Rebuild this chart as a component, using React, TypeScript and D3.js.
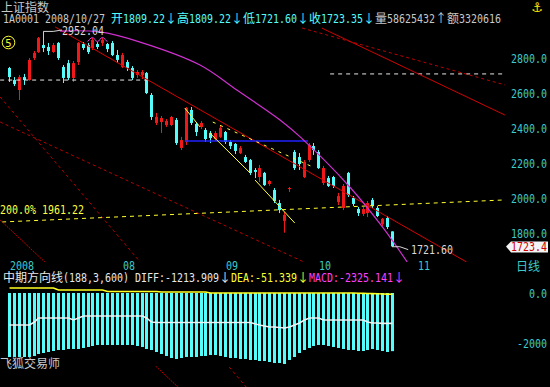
import React from "react";
import * as d3 from "d3";

const W = 550;
const H = 387;

// daily K, 2008-07-01 .. 2008-10-27 (79 bars)
const opens = [2743, 2674, 2617, 2691, 2674, 2800, 2834, 2874, 2863, 2834, 2886, 2749, 2771, 2686, 2777, 2880, 2874, 2857, 2880, 2886,
  2880, 2886, 2817, 2749, 2777, 2743, 2703, 2703, 2714, 2589, 2429, 2434, 2417, 2417, 2446, 2286, 2320, 2503, 2423, 2406,
  2389, 2371, 2337, 2349, 2377, 2320, 2309, 2257, 2234, 2217, 2160, 2120, 2143, 2080, 2046, 1971, 1869, 2051, 2263, 2234,
  2120, 2217, 2297, 2263, 2086, 2114, 2120, 1977, 1943, 2143, 2000, 1937, 1909, 1914, 1989, 1943, 1851, 1886, 1809.22];
const highs = [2749, 2691, 2703, 2709, 2800, 2840, 2920, 2952.04, 2886, 2886, 2891, 2760, 2789, 2783, 2891, 2891, 2886, 2914, 2891, 2914,
  2886, 2897, 2846, 2829, 2789, 2754, 2731, 2731, 2720, 2600, 2486, 2469, 2451, 2469, 2457, 2349, 2520, 2520, 2434, 2440,
  2400, 2383, 2383, 2411, 2383, 2331, 2314, 2297, 2246, 2223, 2171, 2189, 2149, 2103, 2057, 1989, 1920, 2063, 2274, 2257,
  2217, 2314, 2314, 2274, 2183, 2126, 2126, 2029, 2080, 2149, 2011, 1949, 1949, 1983, 2000, 1954, 1886, 1897, 1809.22];
const lows = [2663, 2640, 2560, 2646, 2670, 2789, 2829, 2834, 2817, 2829, 2789, 2657, 2674, 2663, 2760, 2846, 2823, 2846, 2851, 2869,
  2834, 2811, 2771, 2743, 2726, 2674, 2686, 2680, 2594, 2446, 2417, 2371, 2406, 2411, 2303, 2274, 2303, 2417, 2354, 2394,
  2320, 2314, 2326, 2343, 2309, 2280, 2251, 2251, 2200, 2131, 2114, 2091, 2069, 2069, 1971, 1914, 1802, 2034, 2160, 2160,
  2114, 2206, 2246, 2166, 2074, 2063, 2057, 1960, 1931, 2006, 1954, 1897, 1897, 1891, 1943, 1891, 1840, 1823, 1721.6];
const closes = [2691, 2651, 2691, 2674, 2789, 2829, 2914, 2857, 2840, 2874, 2800, 2686, 2686, 2771, 2886, 2857, 2834, 2903, 2863, 2903,
  2851, 2817, 2789, 2817, 2743, 2686, 2720, 2720, 2600, 2463, 2463, 2457, 2440, 2463, 2314, 2331, 2514, 2429, 2377, 2429,
  2337, 2343, 2371, 2400, 2320, 2297, 2269, 2286, 2206, 2143, 2149, 2171, 2074, 2097, 1983, 1931, 1903, 2057, 2171, 2194,
  2206, 2303, 2274, 2171, 2171, 2069, 2069, 2011, 2069, 2017, 1966, 1914, 1937, 1971, 1954, 1897, 1880, 1834, 1723.35];

// 中期方向线 (188,3,600)
const macdVals = [-2560, -2560, -2560, -2560, -2560, -2520, -2440, -2400, -2360, -2320, -2280, -2280, -2240, -2240, -2240, -2200, -2160, -2120, -2080, -2080,
  -2080, -2080, -2080, -2080, -2080, -2080, -2120, -2160, -2240, -2280, -2360, -2440, -2520, -2600, -2640, -2600, -2560, -2560, -2560, -2520,
  -2520, -2480, -2480, -2520, -2560, -2600, -2600, -2640, -2640, -2680, -2680, -2720, -2720, -2760, -2800, -2800, -2840, -2680, -2560, -2400,
  -2280, -2200, -2120, -2080, -2080, -2120, -2160, -2200, -2240, -2280, -2280, -2320, -2320, -2280, -2240, -2280, -2320, -2360, -2325.141];
const diffVals = [-1280, -1280, -1280, -1280, -1280, -1160, -1000, -1000, -1000, -1000, -1000, -1000, -1000, -1080, -1000, -920, -920, -920, -920, -920,
  -920, -920, -920, -920, -920, -920, -920, -920, -1000, -1160, -1180, -1180, -1180, -1180, -1180, -1180, -1180, -1180, -1180, -1180,
  -1180, -1180, -1180, -1180, -1180, -1180, -1180, -1180, -1180, -1180, -1240, -1280, -1320, -1360, -1360, -1380, -1400, -1360, -1280, -1200,
  -1080, -1000, -1000, -1000, -1080, -1080, -1080, -1080, -1080, -1080, -1080, -1080, -1080, -1160, -1200, -1200, -1213, -1213, -1213.909];
const deaVals = [200, 200, 200, 200, 200, 200, 200, 200, 200, 200, 120, 120, 120, 120, 120, 120, 120, 120, 120, 120,
  60, 60, 60, 60, 60, 60, 60, 60, 60, 60, 60, 40, 40, 40, 40, 40, 40, 40, 40, 40,
  40, 0, 0, 0, 0, 0, 0, 0, 0, 0, 0, 0, 0, 0, 0, 0, 0, 0, 0, 0,
  0, 0, 0, 0, 0, 0, 0, 0, 0, 0, 0, -10, -15, -20, -25, -30, -38, -45, -51.339];

const monthTickIdx = [0, 23, 44, 63, 83];
const monthLabels = ["2008", "08", "09", "10", "11"];
const priceTicks = [2800, 2600, 2400, 2200, 2000, 1800];
const macdTicks = [0, -2000];

// drawn lines, [bar index, price]
const trendMain = [[9.4, 2977], [93.2, 1634]];
const trendTopSolid = [[63.7, 2971], [101, 2474]];
const trendTopDash = [[59.7, 2971], [101, 2646]];
const fanSteep = [[-1.8, 2577], [48.3, 920]];
const fanMid = [[-1.8, 2434], [60.1, 1634]];
const fanLow = [[-1.8, 1874], [34.4, 920]];
const whiteDashLeft = [[-1.8, 2674], [28.1, 2674]];
const whiteDashRight = [[65.4, 2709], [101, 2709]];
const goldLine = [[-1.4, 1863], [101, 1989]];
const blueLine = [[35.8, 2326], [60.9, 2326]];
const yellowSeg = [[[35.8, 2514], [38.9, 2406]], [[40.9, 2371], [49.1, 2143]], [[50.1, 2103], [58.2, 1857]]];
const yellowDash = [[41.5, 2434], [61.9, 2177]];
const arcPts = [[10.4, 2954], [18.5, 2949], [26.7, 2891], [38.9, 2760], [46.4, 2617], [55.2, 2446], [59.3, 2349], [69.4, 2063], [76.2, 1829], [81.1, 1634]];
const humpPts = [[16, 2893], [17, 2918], [18, 2893], [19, 2918], [20, 2893]];

const RED = "#f01818";
const CYAN = "#54fcfc";
const AXIS = "#3ccaca";
const GREY = "#c8c8c8";

// text on a 6px cell grid, wide glyphs take two cells
function Cells({ x, y, segs }: { x: number; y: number; segs: { t: string; c: string }[] }) {
  const out: any[] = [];
  let cx = x;
  segs.forEach(s => {
    let run = "";
    let rx = cx;
    const flush = () => {
      if (run) {
        out.push(
          <text key={out.length} x={rx} y={y} textLength={run.length * 6} lengthAdjust="spacingAndGlyphs"
            fontFamily="DejaVu Sans Mono" fontSize={12} fill={s.c}>{run}</text>
        );
      }
      run = "";
    };
    for (const ch of s.t) {
      if (ch === " ") { flush(); cx += 6; continue; }
      if (ch.charCodeAt(0) < 256) {
        if (!run) rx = cx;
        run += ch;
        cx += 6;
      } else {
        flush();
        out.push(
          <text key={out.length} x={cx + 6} y={y} textAnchor="middle"
            fontFamily="Noto Sans CJK SC" fontSize={12} fill={s.c}>{ch}</text>
        );
        cx += 12;
      }
    }
    flush();
  });
  return <g>{out}</g>;
}

export default function App() {
  const x = d3.scaleLinear().domain([0, 78]).range([9, 392]);
  const y = d3.scaleLinear().domain([1800, 2800]).range([233, 58]);
  const ym = d3.scaleLinear().domain([-2000, 0]).range([343, 293]);

  const line = d3.line<number[]>().x(d => x(d[0])).y(d => y(d[1]));
  const arc = d3.line<number[]>().x(d => x(d[0])).y(d => y(d[1])).curve(d3.curveCatmullRom);
  const mline = (vals: number[]) =>
    d3.line<number>().x((d, i) => Math.round(x(i)) + 0.5).y(d => ym(d))(vals) || "";

  const cx = (i: number) => Math.round(x(i));

  return (
    <svg width={W} height={H} style={{ position: "absolute", left: 0, top: 0, background: "#000" }}>
      <rect width={W} height={H} fill="#000" />
      <defs>
        <clipPath id="plot"><rect x={0} y={26} width={506} height={236} /></clipPath>
        <clipPath id="foot"><rect x={0} y={366} width={506} height={21} /></clipPath>
      </defs>

      {/* header */}
      <text x={1} y={12} fontFamily="Noto Sans CJK SC" fontSize={12} fill={GREY}>上证指数</text>
      <Cells x={3} y={23} segs={[
        { t: "1A0001 2008/10/27 ", c: GREY },
        { t: "开1809.22↓高1809.22↓低1721.60↓收1723.35↓", c: CYAN },
        { t: "量58625432↑额3320616", c: GREY },
      ]} />
      <text x={537} y={12} textAnchor="middle" fontFamily="DejaVu Sans" fontSize={13} fill="#ffe000">⚓</text>

      {/* candles */}
      <g>
        {opens.map((o, i) => {
          const up = closes[i] >= o;
          const col = up ? RED : CYAN;
          const top = y(Math.max(o, closes[i]));
          const bot = y(Math.min(o, closes[i]));
          return (
            <g key={i}>
              <line x1={cx(i) + 0.5} x2={cx(i) + 0.5} y1={y(highs[i])} y2={y(lows[i])} stroke={col} />
              <rect x={cx(i) - 1} y={top} width={3} height={Math.max(1, bot - top)} fill={col} />
            </g>
          );
        })}
      </g>

      {/* drawn lines */}
      <g clipPath="url(#plot)" fill="none">
        <path d={line(whiteDashLeft) || ""} stroke="#e8e8e8" strokeDasharray="4,4" />
        <path d={line(whiteDashRight) || ""} stroke="#e8e8e8" strokeDasharray="4,4" />
        <path d={line(goldLine) || ""} stroke="#ffff30" strokeDasharray="4,4" />
        <path d={line(fanSteep) || ""} stroke="#b80000" strokeDasharray="3,3" />
        <path d={line(fanMid) || ""} stroke="#b80000" strokeDasharray="3,3" />
        <path d={line(fanLow) || ""} stroke="#c00000" strokeDasharray="2,1" />
        <path d={line(trendTopDash) || ""} stroke="#c00000" strokeDasharray="3,3" />
        <path d={line(trendTopSolid) || ""} stroke="#d00000" />
        <path d={line(trendMain) || ""} stroke="#d80000" />
        <path d={line(blueLine) || ""} stroke="#2020ff" strokeWidth={1.5} />
        {yellowSeg.map((s, k) => <path key={k} d={line(s) || ""} stroke="#ffff40" />)}
        <path d={line(yellowDash) || ""} stroke="#ffff40" strokeDasharray="3,5" />
        <path d={arc(arcPts) || ""} stroke="#d030d0" strokeWidth={1.2} />
        <path d={arc(humpPts) || ""} stroke="#e040e0" />
        <path d={line([[7, 2952.04], [9, 2952.04], [10.8, 2960]]) || ""} stroke="#d8d8d8" />
        <path d={line([[78, 1721.6], [79.6, 1721.6], [81.3, 1705]]) || ""} stroke="#d8d8d8" />
      </g>
      <g clipPath="url(#foot)" fill="none">
        <path d={line(fanSteep) || ""} stroke="#b80000" strokeDasharray="3,3" />
        <path d={line(fanLow) || ""} stroke="#c00000" strokeDasharray="2,1" />
      </g>

      <Cells x={62} y={35} segs={[{ t: "2952.04", c: "#d8d8d8" }]} />
      <Cells x={411} y={254} segs={[{ t: "1721.60", c: "#d8d8d8" }]} />
      <Cells x={0} y={214} segs={[{ t: "200.0% 1961.22", c: "#ffff40" }]} />

      {/* 5 */}
      <circle cx={8.5} cy={42.5} r={6.3} fill="none" stroke="#ffff30" />
      <text x={8.5} y={46.5} textAnchor="middle" fontFamily="DejaVu Sans" fontSize={10} fill="#ffff30">5</text>

      {/* price axis */}
      {priceTicks.map(p => (
        <Cells key={p} x={511} y={y(p) + 4.5} segs={[{ t: p.toFixed(1), c: AXIS }]} />
      ))}
      <path d={`M506,${y(1723.4)} L511,${y(1723.4) - 5} L548,${y(1723.4) - 5} L548,${y(1723.4) + 6} L511,${y(1723.4) + 6} Z`} fill="#f4f4f4" />
      <Cells x={511} y={y(1723.4) + 5} segs={[{ t: "1723.4", c: "#d00000" }]} />
      <text x={516} y={271} fontFamily="Noto Sans CJK SC" fontSize={12} fill={AXIS}>日线</text>

      {/* month axis */}
      {monthTickIdx.map((t, k) => (
        <Cells key={k} x={Math.round(x(t)) + 1} y={270} segs={[{ t: monthLabels[k], c: AXIS }]} />
      ))}

      {/* indicator panel */}
      <Cells x={3} y={282} segs={[
        { t: "中期方向线(188,3,600) DIFF:-1213.909↓", c: "#e8e8e8" },
        { t: "DEA:-51.339↓", c: "#ffff30" },
        { t: "MACD:-2325.141↓", c: "#ff40ff" },
      ]} />
      <g>
        {macdVals.map((v, i) => (
          <rect key={i} x={cx(i) - 1} y={ym(0)} width={3} height={ym(v) - ym(0)} fill={CYAN} />
        ))}
      </g>
      <path d={mline(diffVals)} fill="none" stroke="#f0f0f0" strokeWidth={1.6} />
      <path d={mline(deaVals)} fill="none" stroke="#ffff20" strokeWidth={1.6} />
      {macdTicks.map(v => {
        const s = v === 0 ? "0.0" : String(v);
        return <Cells key={v} x={547 - s.length * 6} y={ym(v) + 4.5} segs={[{ t: s, c: AXIS }]} />;
      })}
      <text x={0} y={368} fontFamily="Noto Sans CJK SC" fontSize={12} fill={GREY}>飞狐交易师</text>
    </svg>
  );
}
